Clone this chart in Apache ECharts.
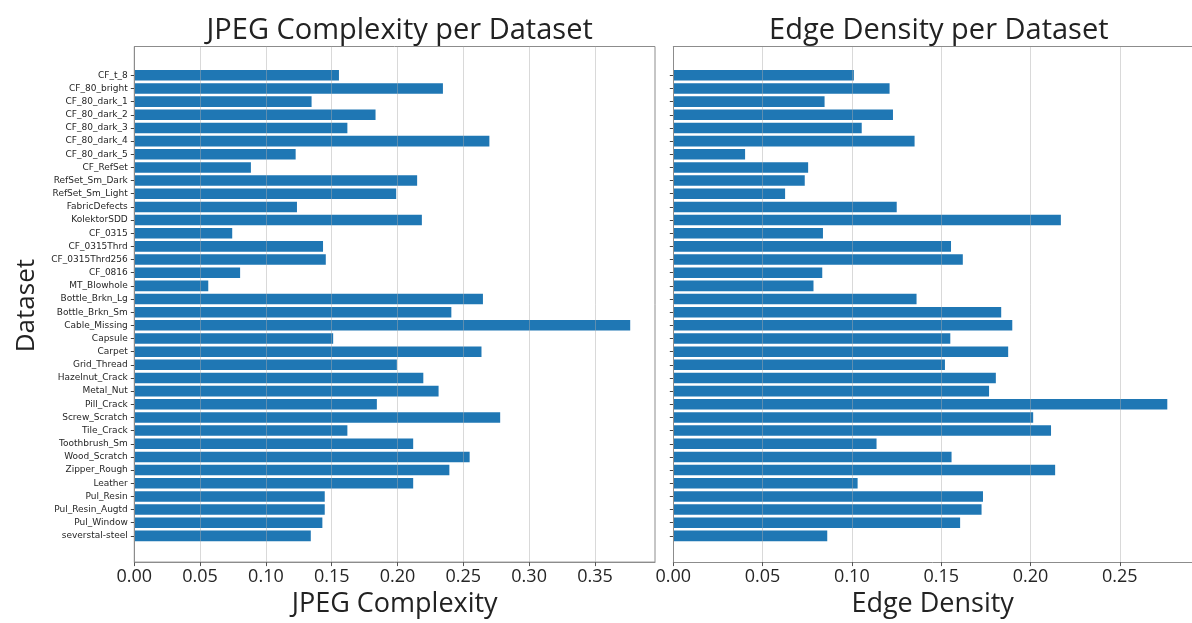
<!DOCTYPE html>
<html>
<head>
<meta charset="utf-8">
<script src="https://cdn.jsdelivr.net/npm/echarts@6/dist/echarts.min.js"></script>
<style>
html,body{margin:0;padding:0;background:#fff;}
#chart{width:1192px;height:623px;}
</style>
</head>
<body>
<div id="chart"></div>
<script>
const categories = [
  'CF_t_8','CF_80_bright','CF_80_dark_1','CF_80_dark_2','CF_80_dark_3','CF_80_dark_4','CF_80_dark_5',
  'CF_RefSet','RefSet_Sm_Dark','RefSet_Sm_Light','FabricDefects','KolektorSDD','CF_0315','CF_0315Thrd',
  'CF_0315Thrd256','CF_0816','MT_Blowhole','Bottle_Brkn_Lg','Bottle_Brkn_Sm','Cable_Missing','Capsule',
  'Carpet','Grid_Thread','Hazelnut_Crack','Metal_Nut','Pill_Crack','Screw_Scratch','Tile_Crack',
  'Toothbrush_Sm','Wood_Scratch','Zipper_Rough','Leather','Pul_Resin','Pul_Resin_Augtd','Pul_Window',
  'severstal-steel'
];
const jpegValues = [
  0.1555,0.2345,0.1347,0.1833,0.1619,0.2698,0.1226,
  0.0886,0.2149,0.1990,0.1236,0.2185,0.0744,0.1434,
  0.1455,0.0804,0.0562,0.2649,0.2409,0.3768,0.1511,
  0.2638,0.1995,0.2196,0.2312,0.1843,0.2780,0.1619,
  0.2119,0.2548,0.2394,0.2119,0.1447,0.1447,0.1429,
  0.1341
];
const edgeValues = [
  0.1011,0.1211,0.0847,0.1230,0.1055,0.1351,0.0402,
  0.0755,0.0736,0.0626,0.1251,0.2170,0.0838,0.1555,
  0.1621,0.0834,0.0785,0.1362,0.1836,0.1898,0.1551,
  0.1875,0.1521,0.1806,0.1768,0.2766,0.2015,0.2115,
  0.1138,0.1558,0.2138,0.1032,0.1734,0.1726,0.1606,
  0.0862
];
const jpegTicks = [0, 0.05, 0.10, 0.15, 0.20, 0.25, 0.30, 0.35];
const edgeTicks = [0, 0.05, 0.10, 0.15, 0.20, 0.25];

const chart = echarts.init(document.getElementById('chart'), null, {renderer: 'canvas'});

const FONT = 'Open Sans';
const SPINE = '#8c8c8c';
const FRAME_TOP = 46.5, FRAME_H = 518.2;
const n = categories.length;
const unit = FRAME_H / ((n - 0.2) * 1.1);   // matplotlib-like 5% margins
const barTop = FRAME_TOP + (0.05 * (n - 0.2) - 0.1) * unit;
const barH = n * unit;

const jpegMax = Math.max(...jpegValues) * 1.05;
const edgeMax = Math.max(...edgeValues) * 1.05;
const L = {left: 134.3, width: 520.7};
const R = {left: 673.3, width: 521.0};

function frameGrid(p, border) {
  return {left: p.left, top: FRAME_TOP, width: p.width, height: FRAME_H,
    show: true, borderColor: SPINE, borderWidth: border ? 1 : 0, backgroundColor: '#fff', containLabel: false};
}
function barGrid(p) {
  return {left: p.left, top: barTop, width: p.width, height: barH, containLabel: false};
}
function frameX(gi, max, ticks, name) {
  return {
    type: 'value', gridIndex: gi, min: 0, max: max, z: 3,
    name: name, nameLocation: 'middle', nameGap: 25,
    nameTextStyle: {fontFamily: FONT, fontSize: 27, color: '#222'},
    axisLine: {show: true, lineStyle: {color: SPINE, width: 1}},
    axisTick: {show: true, inside: false, length: 4, lineStyle: {color: '#555'}, customValues: ticks},
    axisLabel: {show: true, margin: 6, fontFamily: FONT, fontSize: 18, color: '#262626',
      customValues: ticks, formatter: v => v.toFixed(2)},
    splitLine: {show: true, lineStyle: {color: 'rgba(170,170,170,0.45)', width: 1}}
  };
}
function topLine(gi, max) {
  return {type: 'value', gridIndex: gi, position: 'top', min: 0, max: max, z: 4,
    axisLine: {show: true, lineStyle: {color: SPINE, width: 1}},
    axisTick: {show: false}, axisLabel: {show: false}, splitLine: {show: false}};
}
function hiddenX(gi, max) {
  return {type: 'value', gridIndex: gi, min: 0, max: max, show: false};
}
function frameY(gi) {
  return {type: 'value', gridIndex: gi, z: 4,
    axisLine: {show: true, lineStyle: {color: SPINE, width: 1}},
    axisTick: {show: false}, axisLabel: {show: false}, splitLine: {show: false}};
}
function catY(gi, showLabels, name) {
  return {
    type: 'category', gridIndex: gi, data: categories, inverse: true,
    name: name || '', nameLocation: 'middle', nameGap: 95, nameRotate: 90,
    nameTextStyle: {fontFamily: FONT, fontSize: 26, color: '#222'},
    axisLine: {show: false},
    axisTick: {show: true, inside: false, length: 3.5, alignWithLabel: true, interval: 0,
      lineStyle: {color: '#444'}},
    axisLabel: {show: showLabels, interval: 0, margin: 6.5, fontFamily: 'DejaVu Sans',
      fontSize: 9, color: '#262626'},
    splitLine: {show: false}
  };
}

chart.setOption({
  animation: false,
  backgroundColor: '#fff',
  title: [
    {text: 'JPEG Complexity per Dataset', left: L.left + L.width / 2, top: 8, textAlign: 'center',
      textStyle: {fontFamily: FONT, fontSize: 29, fontWeight: 'normal', color: '#222', lineHeight: 35}},
    {text: 'Edge Density per Dataset', left: R.left + R.width / 2, top: 8, textAlign: 'center',
      textStyle: {fontFamily: FONT, fontSize: 29, fontWeight: 'normal', color: '#222', lineHeight: 35}}
  ],
  grid: [frameGrid(L, true), barGrid(L), frameGrid(R, false), barGrid(R)],
  xAxis: [
    frameX(0, jpegMax, jpegTicks, 'JPEG Complexity'),
    hiddenX(1, jpegMax),
    frameX(2, edgeMax, edgeTicks, 'Edge Density'),
    hiddenX(3, edgeMax),
    topLine(2, edgeMax)
  ],
  yAxis: [
    frameY(0),
    catY(1, true, 'Dataset'),
    frameY(2),
    catY(3, false, '')
  ],
  series: [
    {type: 'bar', xAxisIndex: 1, yAxisIndex: 1, data: jpegValues, barWidth: '80%',
      itemStyle: {color: '#1f77b4'}, silent: true},
    {type: 'bar', xAxisIndex: 3, yAxisIndex: 3, data: edgeValues, barWidth: '80%',
      itemStyle: {color: '#1f77b4'}, silent: true}
  ]
});
</script>
</body>
</html>
